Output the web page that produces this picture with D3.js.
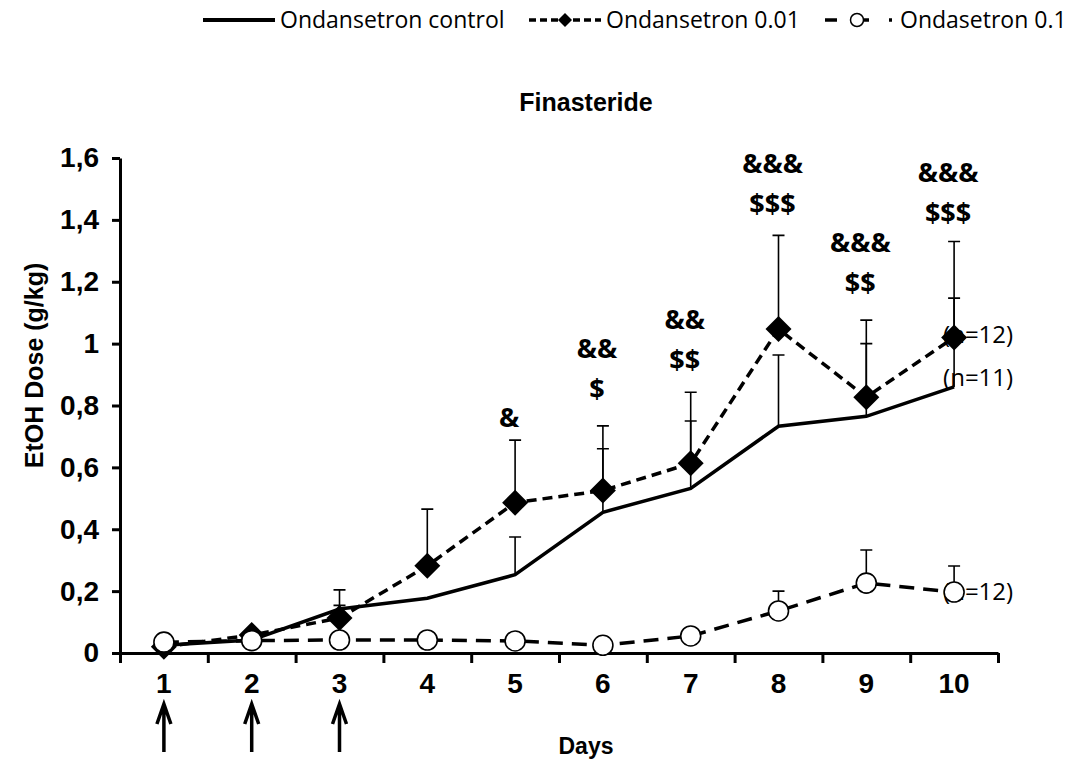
<!DOCTYPE html>
<html>
<head>
<meta charset="utf-8">
<script src="https://cdn.jsdelivr.net/npm/d3@7"></script>
<style>
  html, body { margin: 0; padding: 0; background: #fff; }
  svg { display: block; }
</style>
</head>
<body>
<svg id="chart" width="1072" height="762"></svg>
<script>
// ---------------- data ----------------
const days = [1, 2, 3, 4, 5, 6, 7, 8, 9, 10];
const yTicks = [0, 0.2, 0.4, 0.6, 0.8, 1.0, 1.2, 1.4, 1.6];

const seriesNames = ["Ondansetron control", "Ondansetron 0.01", "Ondasetron 0.1"];
const controlMean = [0.025, 0.042, 0.142, 0.177, 0.253, 0.455, 0.532, 0.733, 0.765, 0.86];
const controlSem  = [0, 0, 0.012, 0, 0.122, 0.205, 0.218, 0.23, 0.235, 0.287];
const ond001Mean  = [0.02, 0.058, 0.113, 0.282, 0.486, 0.525, 0.613, 1.047, 0.827, 1.02];
const ond001Sem   = [0, 0, 0.091, 0.183, 0.202, 0.209, 0.23, 0.303, 0.249, 0.31];
const ond01Mean   = [0.035, 0.04, 0.042, 0.042, 0.039, 0.025, 0.055, 0.136, 0.226, 0.197];
const ond01Sem    = [0, 0, 0, 0, 0, 0, 0, 0.064, 0.107, 0.084];

const annDays   = [5, 6, 7, 8, 9, 10];
const annTop    = ["", "&&", "&&", "&&&", "&&&", "&&&"];
const annBottom = ["&", "$", "$$", "$$$", "$$", "$$$"];
const annLevel  = [0.76, 0.856, 0.947, 1.454, 1.196, 1.425];

const nLabels = [
  { text: "(n=12)", day: 10, value: 1.03 },
  { text: "(n=11)", day: 10, value: 0.89 },
  { text: "(n=12)", day: 10, value: 0.197 }
];
const arrowDays = [1, 2, 3];

// ---------------- layout ----------------
const svg = d3.select("#chart");
const pLeft = 120, pRight = 998, pTop = 158, pBottom = 653;

const x = d3.scaleBand().domain(days).range([pLeft, pRight]).padding(0);
const xc = d => x(d) + x.bandwidth() / 2;
const xEdge = d3.scaleLinear().domain([0.5, 10.5]).range([pLeft, pRight]);
const y = d3.scaleLinear().domain([0, 1.6]).range([pBottom, pTop]);

const boldFont = "'Liberation Sans', Arial, sans-serif";
const lightFont = "'Open Sans', sans-serif";

// title
svg.append("text").attr("x", 586).attr("y", 102).attr("text-anchor", "middle")
  .attr("dy", "0.35em")
  .style("font-family", boldFont).style("font-weight", "bold").style("font-size", "25px")
  .text("Finasteride");

// y axis
const yAxis = d3.axisLeft(y).tickValues(yTicks).tickSize(8).tickSizeOuter(0).tickPadding(13)
  .tickFormat(d => String(+d.toFixed(1)).replace(".", ","));
const gy = svg.append("g").attr("transform", `translate(${pLeft},0)`).call(yAxis);
gy.select(".domain").attr("stroke", "#000").attr("stroke-width", 3);
gy.selectAll(".tick line").attr("stroke", "#000").attr("stroke-width", 3);
gy.selectAll(".tick text").style("font-family", boldFont).style("font-weight", "bold")
  .style("font-size", "28px").attr("fill", "#000");

// y title
svg.append("text").attr("transform", `translate(34,${(pTop + pBottom) / 2 - 40}) rotate(-90)`)
  .attr("text-anchor", "middle").attr("dy", "0.35em")
  .style("font-family", boldFont).style("font-weight", "bold").style("font-size", "25px")
  .text("EtOH Dose (g/kg)");

// x axis (tick marks at category boundaries)
const xTickEdges = d3.range(0.5, 11, 1);
const xAxisEdges = d3.axisBottom(xEdge).tickValues(xTickEdges).tickSize(10).tickSizeOuter(0).tickFormat("");
const gxe = svg.append("g").attr("transform", `translate(0,${pBottom})`).call(xAxisEdges);
gxe.select(".domain").attr("stroke", "#000").attr("stroke-width", 3);
gxe.selectAll(".tick line").attr("stroke", "#000").attr("stroke-width", 3);

const xAxisLabels = d3.axisBottom(x).tickSize(0).tickPadding(20);
const gxl = svg.append("g").attr("transform", `translate(0,${pBottom})`).call(xAxisLabels);
gxl.select(".domain").remove();
gxl.selectAll(".tick text").style("font-family", boldFont).style("font-weight", "bold")
  .style("font-size", "28px").attr("fill", "#000");

svg.append("text").attr("x", 586).attr("y", 746).attr("text-anchor", "middle").attr("dy", "0.35em")
  .style("font-family", boldFont).style("font-weight", "bold").style("font-size", "23px")
  .text("Days");

// arrows
arrowDays.forEach(d => {
  const cx = xc(d);
  svg.append("path")
    .attr("d", `M${cx},752 L${cx},704 M${cx - 7},724 L${cx},704 L${cx + 7},724`)
    .attr("fill", "none").attr("stroke", "#000").attr("stroke-width", 3.5);
});

// n labels (drawn first: markers overlap them)
nLabels.forEach(n => {
  svg.append("text").attr("x", xc(n.day) - 11).attr("y", y(n.value)).attr("dy", "0.35em")
    .style("font-family", lightFont).style("font-size", "24px").text(n.text);
});

// annotations
annDays.forEach((d, i) => {
  const g = svg.append("g").style("font-family", lightFont).style("font-weight", "bold")
    .style("font-size", "27px").attr("text-anchor", "middle");
  g.append("text").attr("x", xc(d) - 6).attr("y", y(annLevel[i])).attr("dy", "0.35em").text(annBottom[i]);
  if (annTop[i]) g.append("text").attr("x", xc(d) - 6).attr("y", y(annLevel[i]) - 40).attr("dy", "0.35em").text(annTop[i]);
});

// error bars
function errorBars(mean, sem) {
  days.forEach((d, i) => {
    if (!sem[i]) return;
    const cx = xc(d), y0 = y(mean[i]), y1 = y(mean[i] + sem[i]);
    svg.append("path").attr("d", `M${cx},${y0} L${cx},${y1} M${cx - 6},${y1} L${cx + 6},${y1}`)
      .attr("fill", "none").attr("stroke", "#000").attr("stroke-width", 1.6);
  });
}
errorBars(controlMean, controlSem);
errorBars(ond001Mean, ond001Sem);
errorBars(ond01Mean, ond01Sem);

// lines
const line = d3.line().x((v, i) => xc(days[i])).y(v => y(v));
svg.append("path").datum(ond01Mean).attr("d", line).attr("fill", "none")
  .attr("stroke", "#000").attr("stroke-width", 3.5).attr("stroke-dasharray", "15,9");
svg.append("path").datum(controlMean).attr("d", line).attr("fill", "none")
  .attr("stroke", "#000").attr("stroke-width", 3.5);
svg.append("path").datum(ond001Mean).attr("d", line).attr("fill", "none")
  .attr("stroke", "#000").attr("stroke-width", 3.5).attr("stroke-dasharray", "10,6");

// markers
const diamond = (cx, cy, r) => `M${cx},${cy - r} L${cx + r},${cy} L${cx},${cy + r} L${cx - r},${cy} Z`;
svg.selectAll(".dia").data(ond001Mean).enter().append("path")
  .attr("d", (v, i) => diamond(xc(days[i]), y(v), 13)).attr("fill", "#000");
svg.selectAll(".circ").data(ond01Mean).enter().append("circle")
  .attr("cx", (v, i) => xc(days[i])).attr("cy", v => y(v)).attr("r", 10)
  .attr("fill", "#fff").attr("stroke", "#000").attr("stroke-width", 1.6);

// legend
const ly = 20;
const lg = svg.append("g");
lg.append("line").attr("x1", 203).attr("x2", 275).attr("y1", ly).attr("y2", ly)
  .attr("stroke", "#000").attr("stroke-width", 4);
lg.append("text").attr("x", 280).attr("y", ly).attr("dy", "0.35em")
  .style("font-family", lightFont).style("font-size", "23px").text(seriesNames[0]);

lg.append("line").attr("x1", 529).attr("x2", 601).attr("y1", ly).attr("y2", ly)
  .attr("stroke", "#000").attr("stroke-width", 3.5).attr("stroke-dasharray", "7,4");
lg.append("path").attr("d", diamond(565, ly, 7)).attr("fill", "#000");
lg.append("text").attr("x", 606).attr("y", ly).attr("dy", "0.35em")
  .style("font-family", lightFont).style("font-size", "23px").text(seriesNames[1]);

lg.append("line").attr("x1", 825).attr("x2", 892).attr("y1", ly).attr("y2", ly)
  .attr("stroke", "#000").attr("stroke-width", 3.5).attr("stroke-dasharray", "12,15,17,20,3,100");
lg.append("circle").attr("cx", 857).attr("cy", ly).attr("r", 6.5)
  .attr("fill", "#fff").attr("stroke", "#000").attr("stroke-width", 1.5);
lg.append("text").attr("x", 900).attr("y", ly).attr("dy", "0.35em")
  .style("font-family", lightFont).style("font-size", "23px").text(seriesNames[2]);
</script>
</body>
</html>
